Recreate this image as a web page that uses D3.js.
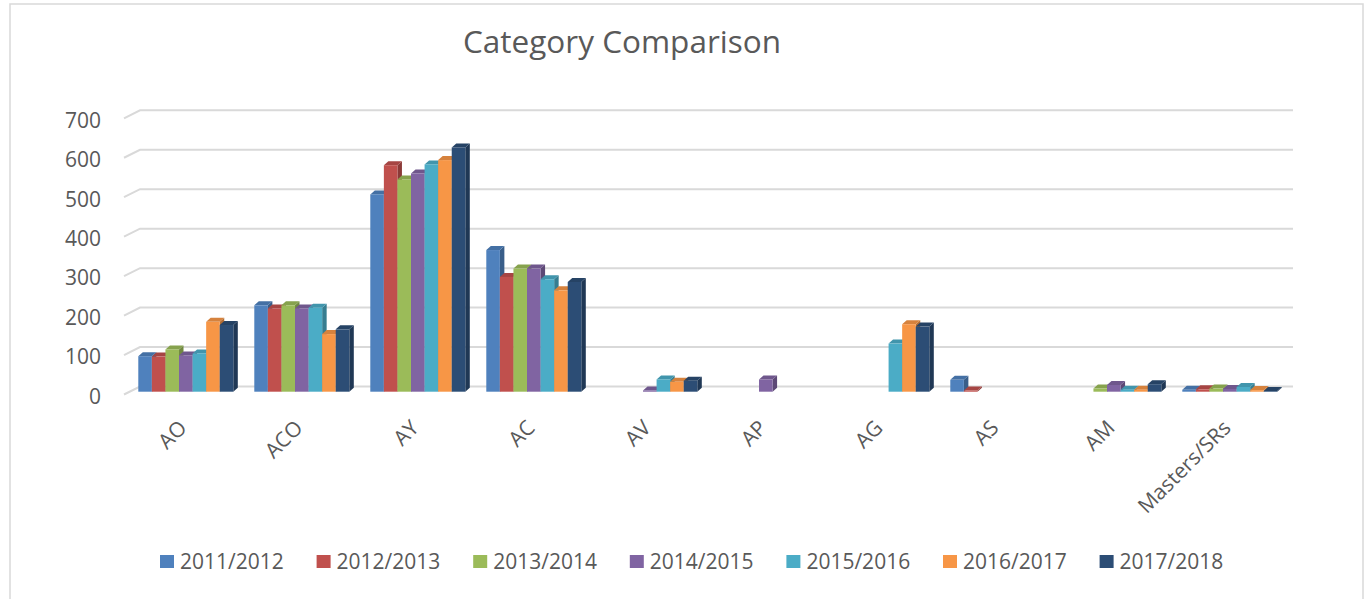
<!DOCTYPE html>
<html>
<head>
<meta charset="utf-8">
<script src="https://cdnjs.cloudflare.com/ajax/libs/d3/7.8.5/d3.min.js"></script>
<style>
    body { margin: 0; background: #fff; }
    text { font-family: 'Open Sans', sans-serif; fill: #595959; }
</style>
</head>
<body>
<svg id="chart" width="1369" height="599"></svg>
<script>
// data
let categories = ['AO', 'ACO', 'AY', 'AC', 'AV', 'AP', 'AG', 'AS', 'AM', 'Masters/SRs']
let seriesNames = ['2011/2012', '2012/2013', '2013/2014', '2014/2015', '2015/2016', '2016/2017', '2017/2018']
let seriesColors = ['#4f81bd', '#c0504d', '#9bbb59', '#8064a2', '#4bacc6', '#f79646', '#2c4d75']
let v2011 = [90, 219, 500, 359, 0, 0, 0, 30, 0, 5]
let v2012 = [89, 211, 574, 291, 0, 0, 0, 3, 0, 6]
let v2013 = [107, 219, 538, 312, 0, 0, 0, 0, 8, 8]
let v2014 = [92, 211, 553, 312, 3, 31, 0, 0, 17, 7]
let v2015 = [97, 213, 576, 285, 31, 0, 122, 0, 5, 12]
let v2016 = [177, 146, 587, 257, 25, 0, 171, 0, 5, 4]
let v2017 = [169, 158, 619, 278, 28, 0, 165, 0, 19, 2]
let seriesValues = [v2011, v2012, v2013, v2014, v2015, v2016, v2017]
let yTicks = [0, 100, 200, 300, 400, 500, 600, 700]

let svg = d3.select('#chart')
svg.append('rect').attr('width', 1369).attr('height', 599).attr('fill', '#fff')
// chart border
svg.append('rect').attr('x', 10).attr('y', 4).attr('width', 1353).attr('height', 620)
    .attr('fill', 'none').attr('stroke', '#d9d9d9').attr('stroke-width', 1.5)

// title
svg.append('text').attr('x', 622).attr('y', 53).attr('text-anchor', 'middle')
    .attr('font-size', '31.5px').text('Category Comparison')

// 3d offsets
let depthX = 4.5, depthY = -4
let wallX = -16, wallY = 8
let frontY = 5.2

// scales
let xScale = d3.scaleBand().domain(categories).range([127.8, 1287.8]).paddingInner(0.181).paddingOuter(0.0905)
let xSeries = d3.scaleBand().domain(seriesNames).range([0, xScale.bandwidth()])
let yScale = d3.scaleLinear().domain([0, 700]).range([386.5, 110.3])

// gridlines on back + side wall
let grid = svg.append('g')
yTicks.forEach(t => {
    let y = yScale(t)
    grid.append('path')
        .attr('d', 'M' + (140 + wallX) + ',' + (y + wallY) + 'L140,' + y + 'H1293')
        .attr('fill', 'none').attr('stroke', '#d9d9d9').attr('stroke-width', 2)
    grid.append('text').attr('x', 101).attr('y', y + 10).attr('dy', '0.35em')
        .attr('text-anchor', 'end').attr('font-size', '21px').text(t)
})

// bars
let bars = svg.append('g')
categories.forEach((c, ci) => {
    seriesNames.forEach((s, si) => {
        let v = seriesValues[si][ci]
        if (!v) return
        let x0 = xScale(c) + xSeries(s)
        let x1 = x0 + xSeries.bandwidth()
        let yb = yScale(0) + frontY
        let yt = yScale(v) + frontY
        let col = d3.color(seriesColors[si])
        // side face
        bars.append('path')
            .attr('d', 'M' + x1 + ',' + yb + 'L' + (x1 + depthX) + ',' + (yb + depthY) +
                'L' + (x1 + depthX) + ',' + (yt + depthY) + 'L' + x1 + ',' + yt + 'Z')
            .attr('fill', col.darker(0.9))
        // top face
        bars.append('path')
            .attr('d', 'M' + x0 + ',' + yt + 'L' + x1 + ',' + yt +
                'L' + (x1 + depthX) + ',' + (yt + depthY) + 'L' + (x0 + depthX) + ',' + (yt + depthY) + 'Z')
            .attr('fill', col.darker(0.4))
        // front face
        bars.append('rect').attr('x', x0).attr('y', yt)
            .attr('width', x1 - x0).attr('height', yb - yt)
            .attr('fill', col)
    })
})

// x labels
categories.forEach(c => {
    let cx = xScale(c) + xScale.bandwidth() / 2 - 3
    svg.append('text')
        .attr('transform', 'translate(' + cx + ',424) rotate(-45)')
        .attr('text-anchor', 'end').attr('dy', '0.35em')
        .attr('font-size', '21px').text(c)
})

// legend
let legendX = d3.scaleBand().domain(seriesNames).range([160, 160 + 156.6 * seriesNames.length])
let legend = svg.append('g')
seriesNames.forEach((s, i) => {
    legend.append('rect').attr('x', legendX(s)).attr('y', 555)
        .attr('width', 14).attr('height', 13).attr('fill', seriesColors[i])
    legend.append('text').attr('x', legendX(s) + 20).attr('y', 569)
        .attr('font-size', '21px').text(s)
})
</script>
</body>
</html>
